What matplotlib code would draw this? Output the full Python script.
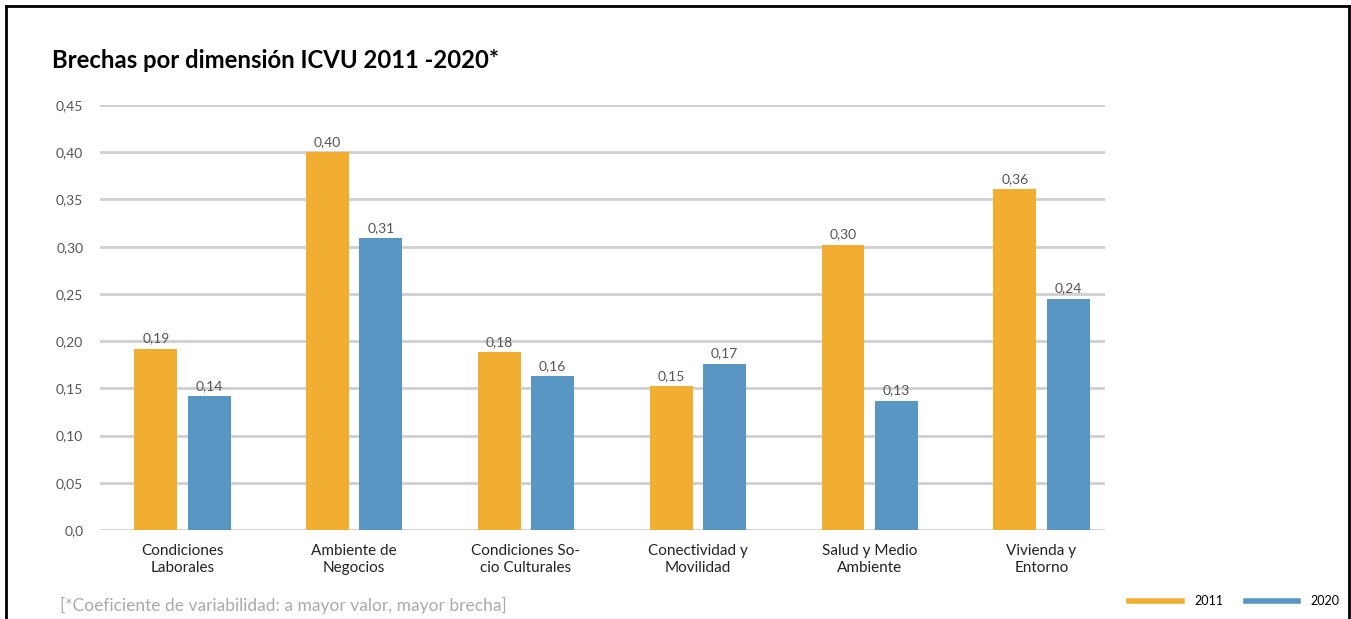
import matplotlib
matplotlib.use("Agg")
import matplotlib.pyplot as plt
from matplotlib.lines import Line2D
import numpy as np

plt.rcParams['font.family'] = ['Lato', 'DejaVu Sans']

# datos
dimensiones = ["Condiciones\nLaborales", "Ambiente de\nNegocios", "Condiciones So-\ncio Culturales",
               "Conectividad y\nMovilidad", "Salud y Medio\nAmbiente", "Vivienda y\nEntorno"]
val_2011 = [0.192, 0.400, 0.188, 0.152, 0.302, 0.361]
val_2020 = [0.142, 0.309, 0.163, 0.176, 0.137, 0.245]
etq_2011 = ["0,19", "0,40", "0,18", "0,15", "0,30", "0,36"]
etq_2020 = ["0,14", "0,31", "0,16", "0,17", "0,13", "0,24"]
yticks = [0.0, 0.05, 0.10, 0.15, 0.20, 0.25, 0.30, 0.35, 0.40, 0.45]
ytick_labels = ["0,0", "0,05", "0,10", "0,15", "0,20", "0,25", "0,30", "0,35", "0,40", "0,45"]

c2011 = "#F2AE30"
c2020 = "#5A96C4"

fig = plt.figure(figsize=(13.51, 6.19), dpi=100)
ax = fig.add_axes([100 / 1351, 1 - 530 / 619, 1005 / 1351, 425 / 619])

x = np.arange(len(dimensiones))
w = 0.25
off = 0.155
b1 = ax.bar(x - off, val_2011, w, color=c2011, zorder=3)
b2 = ax.bar(x + off, val_2020, w, color=c2020, zorder=3)

for bars, etq in ((b1, etq_2011), (b2, etq_2020)):
    for b, t in zip(bars, etq):
        ax.annotate(t, (b.get_x() + b.get_width() / 2, b.get_height()),
                    xytext=(0, 3), textcoords="offset points", ha="center", va="bottom",
                    fontsize=10, color="#555555", clip_on=False)

ax.set_ylim(0, 0.45)
ax.set_xlim(-0.48, len(dimensiones) - 1 + 0.37)
ax.set_yticks(yticks)
ax.set_yticklabels(ytick_labels, fontsize=10, color="#555555")
ax.set_xticks(x)
ax.set_xticklabels(dimensiones, fontsize=11, color="#222222", linespacing=1.3)
ax.tick_params(axis="y", length=0, pad=12)
ax.tick_params(axis="x", length=0, pad=10)
ax.grid(axis="y", color="#cfcfcf", linewidth=2, zorder=0)
ax.set_axisbelow(True)
for s in ax.spines.values():
    s.set_visible(False)

fig.text(52 / 1351, 1 - 60 / 619, "Brechas por dimensión ICVU 2011 -2020*", fontsize=17.2,
         fontweight="bold", ha="left", va="center", color="#000000")
fig.text(60 / 1351, 1 - 605 / 619, "[*Coeficiente de variabilidad: a mayor valor, mayor brecha]",
         fontsize=12.5, color="#aaaaaa", ha="left", va="center")

handles = [Line2D([], [], color=c2011, linewidth=4), Line2D([], [], color=c2020, linewidth=4)]
fig.legend(handles, ["2011", "2020"], loc="center left", bbox_to_anchor=(1118 / 1351, 1 - 601 / 619),
           ncol=2, frameon=False, fontsize=9, handlelength=4.2, handletextpad=1.0, columnspacing=1.8)

# marco
fig.add_artist(Line2D([6 / 1351, 6 / 1351], [0, 1 - 6 / 619], color="black", linewidth=2,
                      transform=fig.transFigure))
fig.add_artist(Line2D([6 / 1351, 1349 / 1351], [1 - 6 / 619, 1 - 6 / 619], color="black", linewidth=2,
                      transform=fig.transFigure))
fig.add_artist(Line2D([1349 / 1351, 1349 / 1351], [0, 1 - 6 / 619], color="black", linewidth=2,
                      transform=fig.transFigure))

fig.savefig("out.png", dpi=100)
